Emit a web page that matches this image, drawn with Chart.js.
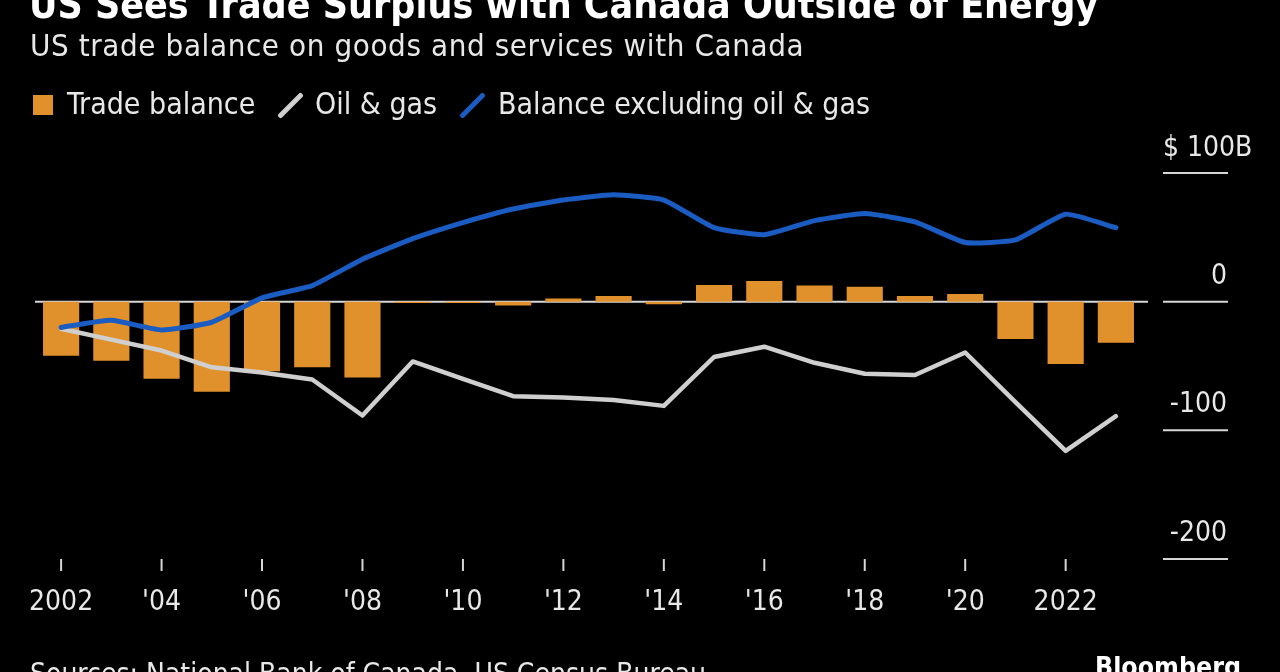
<!DOCTYPE html>
<html>
<head>
<meta charset="utf-8">
<script src="https://cdn.jsdelivr.net/npm/chart.js@4.4.1/dist/chart.umd.min.js"></script>
<style>
  html, body { margin: 0; padding: 0; background: #000; }
  body { width: 1280px; height: 672px; position: relative; overflow: hidden; font-family: "DejaVu Sans Condensed", "DejaVu Sans", sans-serif; color: #e8e8e8; }
  .txt { position: absolute; white-space: nowrap; line-height: 1; }
  #title { left: 29px; top: -15px; font-size: 39px; font-weight: bold; color: #fff; }
  #subtitle { left: 30px; top: 30px; font-size: 31px; letter-spacing: 0.6px; }
  .leg { top: 89px; font-size: 30px; }
  .sq { position: absolute; left: 33px; top: 95px; width: 20px; height: 20px; background: #e0912b; }
  .slash { position: absolute; top: 89px; width: 5px; height: 33px; transform: rotate(45deg); border-radius: 2px; }
  #source { left: 30px; top: 660px; font-size: 28px; }
  #brand { left: 1095px; top: 654px; font-size: 26.5px; font-weight: bold; color: #fff; }
  canvas { position: absolute; left: 0; top: 0; }
</style>
</head>
<body>
<canvas id="trade-chart" width="1280" height="672"></canvas>
<div class="txt" id="title">US Sees Trade Surplus with Canada Outside of Energy</div>
<div class="txt" id="subtitle">US trade balance on goods and services with Canada</div>
<div class="sq"></div>
<div class="txt leg" style="left:67px">Trade balance</div>
<div class="slash" style="left:288px; background:#cfcfcf"></div>
<div class="txt leg" style="left:315px">Oil &amp; gas</div>
<div class="slash" style="left:470px; background:#1a5cc2"></div>
<div class="txt leg" style="left:498px">Balance excluding oil &amp; gas</div>
<div class="txt" id="source">Sources: National Bank of Canada, US Census Bureau</div>
<div class="txt" id="brand">Bloomberg</div>
<script>
// 数据：年份与各序列（十亿美元）
const years = ['2002', '2003', '2004', '2005', '2006', '2007', '2008', '2009', '2010', '2011', '2012',
               '2013', '2014', '2015', '2016', '2017', '2018', '2019', '2020', '2021', '2022', '2023'];
const tradeBalance = [-42, -46, -60, -70, -54, -51, -59, -1, -1, -3, 2.5,
                      4.5, -2, 13, 16, 12.5, 11.5, 4.5, 6, -29, -48.5, -32];
const oilGas = [-21, -29.5, -38, -51, -55, -60.5, -88.5, -46.5, -60, -73.5, -74.5,
                -76.5, -81, -43, -35, -47.5, -56, -57, -39.5, -78, -116, -89];
const exOilGas = [-20, -14.5, -22, -16, 3, 12.5, 33, 49, 61.5, 72, 79,
                  83, 79, 57.5, 52, 63, 68.5, 62, 46, 48, 68, 57.5];

const xTickLabels = ['2002', "'04", "'06", "'08", "'10", "'12", "'14", "'16", "'18", "'20", '2022'];
const yTicks = [100, 0, -100, -200];
const yTickLabels = ['$ 100B', '0', '-100', '-200'];

const FONT = '"DejaVu Sans Condensed", "DejaVu Sans", sans-serif';

// 零线（画在柱子下面）
const zeroLine = {
    id: 'zeroLine',
    beforeDatasetsDraw(chart) {
        const c = chart.ctx, a = chart.chartArea;
        const y = chart.scales.y.getPixelForValue(0);
        c.save();
        c.strokeStyle = '#d6d6d6';
        c.lineWidth = 2;
        c.beginPath();
        c.moveTo(a.left - 1, y);
        c.lineTo(a.right + 7, y);
        c.stroke();
        c.restore();
    }
};

// 右侧刻度和底部年份
const axisLabels = {
    id: 'axisLabels',
    afterDraw(chart) {
        const c = chart.ctx;
        const ys = chart.scales.y, xs = chart.scales.x;
        c.save();
        c.fillStyle = '#e8e8e8';
        c.strokeStyle = '#d6d6d6';
        c.font = '28px ' + FONT;
        c.textBaseline = 'alphabetic';
        yTicks.forEach((v, i) => {
            const y = ys.getPixelForValue(v);
            c.lineWidth = 2;
            c.beginPath();
            c.moveTo(1163, y);
            c.lineTo(1228, y);
            c.stroke();
            // 顶部标签左对齐，其余右对齐
            if (i === 0) {
                c.textAlign = 'left';
                c.fillText(yTickLabels[i], 1163, y - 17);
            } else {
                c.textAlign = 'right';
                c.fillText(yTickLabels[i], 1227, y - 18);
            }
        });
        c.textAlign = 'center';
        xTickLabels.forEach((lbl, i) => {
            const x = xs.getPixelForValue(i * 2);
            c.lineWidth = 2;
            c.beginPath();
            c.moveTo(x, 559);
            c.lineTo(x, 571);
            c.stroke();
            c.fillText(lbl, x, 610);
        });
        c.restore();
    }
};

const ctx = document.getElementById('trade-chart').getContext('2d');

const tradeChart = new Chart(ctx, {
    type: 'bar',
    data: {
        labels: years,
        datasets: [{
            label: 'Balance excluding oil & gas',
            type: 'line',
            data: exOilGas,
            borderColor: '#1a5cc2',
            borderWidth: 5,
            pointRadius: 0,
            tension: 0.15,
            borderJoinStyle: 'round',
            borderCapStyle: 'round',
            order: 1
        }, {
            label: 'Oil & gas',
            type: 'line',
            data: oilGas,
            borderColor: '#cfcfcf',
            borderWidth: 4.5,
            pointRadius: 0,
            tension: 0,
            borderJoinStyle: 'round',
            borderCapStyle: 'round',
            order: 2
        }, {
            label: 'Trade balance',
            data: tradeBalance,
            backgroundColor: '#e0912b',
            barPercentage: 0.72,
            categoryPercentage: 1,
            order: 3
        }]
    },
    options: {
        responsive: false,
        animation: false,
        layout: {
            padding: { left: 36, right: 139, top: 173, bottom: 113 }
        },
        plugins: {
            legend: { display: false },
            tooltip: { enabled: false }
        },
        scales: {
            x: { display: false },
            y: { display: false, min: -200, max: 100 }
        }
    },
    plugins: [zeroLine, axisLabels]
});
</script>
</body>
</html>
